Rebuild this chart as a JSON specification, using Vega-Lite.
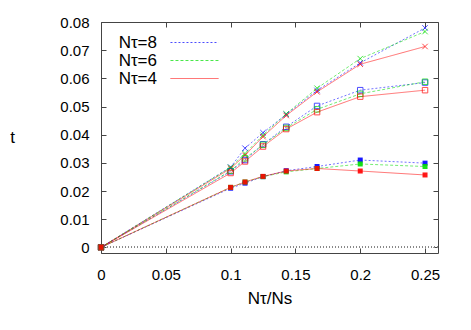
{
  "$schema": "https://vega.github.io/schema/vega-lite/v6.json",
  "width": 337,
  "height": 231,
  "autosize": {"type": "none"},
  "padding": {"left": 101, "top": 22, "right": 33, "bottom": 77},
  "config": {
    "view": {"stroke": "#444", "strokeWidth": 1},
    "font": "Liberation Sans",
    "axis": {
      "domain": false,
      "grid": false,
      "tickSize": -5,
      "tickColor": "#444",
      "labelFlush": false,
      "labelOverlap": false,
      "labelFont": "Liberation Sans",
      "labelFontSize": 15,
      "labelColor": "#000",
      "titleFont": "Liberation Sans",
      "titleFontSize": 17,
      "titleFontWeight": "normal",
      "titleColor": "#000"
    }
  },
  "data": {
    "values": [
      {"x": 0, "N": "8", "g": "a", "t": 0}, {"x": 0.1, "N": "8", "g": "a", "t": 0.0285}, {"x": 0.1111, "N": "8", "g": "a", "t": 0.0352}, {"x": 0.125, "N": "8", "g": "a", "t": 0.0407}, {"x": 0.1429, "N": "8", "g": "a", "t": 0.0472}, {"x": 0.1667, "N": "8", "g": "a", "t": 0.0557}, {"x": 0.2, "N": "8", "g": "a", "t": 0.0655}, {"x": 0.25, "N": "8", "g": "a", "t": 0.0779},
      {"x": 0, "N": "6", "g": "a", "t": 0}, {"x": 0.1, "N": "6", "g": "a", "t": 0.0284}, {"x": 0.1111, "N": "6", "g": "a", "t": 0.0333}, {"x": 0.125, "N": "6", "g": "a", "t": 0.0398}, {"x": 0.1429, "N": "6", "g": "a", "t": 0.0474}, {"x": 0.1667, "N": "6", "g": "a", "t": 0.0565}, {"x": 0.2, "N": "6", "g": "a", "t": 0.0670}, {"x": 0.25, "N": "6", "g": "a", "t": 0.0766},
      {"x": 0, "N": "4", "g": "a", "t": 0}, {"x": 0.1, "N": "4", "g": "a", "t": 0.0280}, {"x": 0.1111, "N": "4", "g": "a", "t": 0.0327}, {"x": 0.125, "N": "4", "g": "a", "t": 0.0393}, {"x": 0.1429, "N": "4", "g": "a", "t": 0.0468}, {"x": 0.1667, "N": "4", "g": "a", "t": 0.0552}, {"x": 0.2, "N": "4", "g": "a", "t": 0.0650}, {"x": 0.25, "N": "4", "g": "a", "t": 0.0713},
      {"x": 0, "N": "8", "g": "b", "t": 0}, {"x": 0.1, "N": "8", "g": "b", "t": 0.0270}, {"x": 0.1111, "N": "8", "g": "b", "t": 0.0310}, {"x": 0.125, "N": "8", "g": "b", "t": 0.0366}, {"x": 0.1429, "N": "8", "g": "b", "t": 0.0428}, {"x": 0.1667, "N": "8", "g": "b", "t": 0.0502}, {"x": 0.2, "N": "8", "g": "b", "t": 0.0558}, {"x": 0.25, "N": "8", "g": "b", "t": 0.0585},
      {"x": 0, "N": "6", "g": "b", "t": 0}, {"x": 0.1, "N": "6", "g": "b", "t": 0.0272}, {"x": 0.1111, "N": "6", "g": "b", "t": 0.0316}, {"x": 0.125, "N": "6", "g": "b", "t": 0.0364}, {"x": 0.1429, "N": "6", "g": "b", "t": 0.0424}, {"x": 0.1667, "N": "6", "g": "b", "t": 0.0490}, {"x": 0.2, "N": "6", "g": "b", "t": 0.0545}, {"x": 0.25, "N": "6", "g": "b", "t": 0.0588},
      {"x": 0, "N": "4", "g": "b", "t": 0}, {"x": 0.1, "N": "4", "g": "b", "t": 0.0264}, {"x": 0.1111, "N": "4", "g": "b", "t": 0.0305}, {"x": 0.125, "N": "4", "g": "b", "t": 0.0358}, {"x": 0.1429, "N": "4", "g": "b", "t": 0.0420}, {"x": 0.1667, "N": "4", "g": "b", "t": 0.0480}, {"x": 0.2, "N": "4", "g": "b", "t": 0.0535}, {"x": 0.25, "N": "4", "g": "b", "t": 0.0558},
      {"x": 0, "N": "8", "g": "c", "t": 0}, {"x": 0.1, "N": "8", "g": "c", "t": 0.0210}, {"x": 0.1111, "N": "8", "g": "c", "t": 0.0228}, {"x": 0.125, "N": "8", "g": "c", "t": 0.0251}, {"x": 0.1429, "N": "8", "g": "c", "t": 0.0272}, {"x": 0.1667, "N": "8", "g": "c", "t": 0.0287}, {"x": 0.2, "N": "8", "g": "c", "t": 0.0310}, {"x": 0.25, "N": "8", "g": "c", "t": 0.0299},
      {"x": 0, "N": "6", "g": "c", "t": 0}, {"x": 0.1, "N": "6", "g": "c", "t": 0.0213}, {"x": 0.1111, "N": "6", "g": "c", "t": 0.0232}, {"x": 0.125, "N": "6", "g": "c", "t": 0.0251}, {"x": 0.1429, "N": "6", "g": "c", "t": 0.0268}, {"x": 0.1667, "N": "6", "g": "c", "t": 0.0280}, {"x": 0.2, "N": "6", "g": "c", "t": 0.0296}, {"x": 0.25, "N": "6", "g": "c", "t": 0.0287},
      {"x": 0, "N": "4", "g": "c", "t": 0}, {"x": 0.1, "N": "4", "g": "c", "t": 0.0213}, {"x": 0.1111, "N": "4", "g": "c", "t": 0.0232}, {"x": 0.125, "N": "4", "g": "c", "t": 0.0252}, {"x": 0.1429, "N": "4", "g": "c", "t": 0.0271}, {"x": 0.1667, "N": "4", "g": "c", "t": 0.0280}, {"x": 0.2, "N": "4", "g": "c", "t": 0.0271}, {"x": 0.25, "N": "4", "g": "c", "t": 0.0257}
    ]
  },
  "layer": [
    {
      "mark": {"type": "rule", "color": "#888", "strokeDash": [1, 2], "strokeWidth": 1},
      "encoding": {
        "y": {"datum": 0, "type": "quantitative", "scale": {"domain": [-0.002, 0.08], "nice": false}, "axis": null}
      }
    },
    {
      "mark": {"type": "point", "opacity": 0},
      "encoding": {
        "x": {"field": "x", "type": "quantitative", "scale": {"domain": [0, 0.26], "nice": false},
              "axis": {"orient": "top", "labels": false, "title": null, "values": [0, 0.05, 0.1, 0.15, 0.2, 0.25]}},
        "y": {"field": "t", "type": "quantitative", "scale": {"domain": [-0.002, 0.08], "nice": false},
              "axis": {"orient": "right", "labels": false, "title": null, "values": [0, 0.01, 0.02, 0.03, 0.04, 0.05, 0.06, 0.07, 0.08]}}
      }
    },
    {
      "mark": {"type": "line", "strokeWidth": 1, "opacity": 0.55},
      "encoding": {
        "x": {"field": "x", "type": "quantitative", "scale": {"domain": [0, 0.26], "nice": false},
              "axis": {"orient": "bottom", "values": [0, 0.05, 0.1, 0.15, 0.2, 0.25], "format": ".2~f", "labelPadding": 19, "title": "Nτ/Ns", "titlePadding": 8}},
        "y": {"field": "t", "type": "quantitative", "scale": {"domain": [-0.002, 0.08], "nice": false},
              "axis": {"orient": "left", "values": [0, 0.01, 0.02, 0.03, 0.04, 0.05, 0.06, 0.07, 0.08], "format": ".2~f", "labelPadding": 17, "title": "t", "titleAngle": 0, "titleX": -89, "titleY": 115, "titleBaseline": "middle", "titleAlign": "center"}},
        "color": {
          "field": "N", "type": "nominal",
          "scale": {"domain": ["8", "6", "4"], "range": ["#0000ff", "#00dd00", "#ff0000"]},
          "legend": {
            "orient": "none", "legendX": 84, "legendY": 11, "title": null,
            "symbolType": "M-2.67,0L2.67,0", "symbolSize": 324, "symbolStrokeWidth": 1, "symbolOpacity": 0.55,
            "labelAlign": "right", "labelOffset": -47, "labelFontSize": 17, "labelFont": "Liberation Sans",
            "rowPadding": 0, "padding": 0,
            "labelExpr": "'Nτ=' + datum.label"
          }
        },
        "strokeDash": {
          "field": "N", "type": "nominal",
          "scale": {"domain": ["8", "6", "4"], "range": [[2, 2], [3, 2], [1, 0]]},
          "legend": {
            "orient": "none", "legendX": 84, "legendY": 11, "title": null,
            "symbolType": "M-2.67,0L2.67,0", "symbolSize": 324, "symbolStrokeWidth": 1, "symbolOpacity": 0.55,
            "labelAlign": "right", "labelOffset": -47, "labelFontSize": 17, "labelFont": "Liberation Sans",
            "rowPadding": 0, "padding": 0,
            "labelExpr": "'Nτ=' + datum.label"
          }
        },
        "detail": {"field": "g"}
      }
    },
    {
      "transform": [{"filter": "datum.g == 'a'"}],
      "mark": {"type": "point", "shape": "M-1,-1L1,1M1,-1L-1,1", "filled": false, "size": 30, "strokeWidth": 1},
      "encoding": {
        "x": {"field": "x", "type": "quantitative", "scale": {"domain": [0, 0.26], "nice": false}, "axis": null},
        "y": {"field": "t", "type": "quantitative", "scale": {"domain": [-0.002, 0.08], "nice": false}, "axis": null},
        "color": {"field": "N", "type": "nominal"}
      }
    },
    {
      "transform": [{"filter": "datum.g == 'b'"}],
      "mark": {"type": "point", "shape": "square", "filled": false, "size": 30, "strokeWidth": 1},
      "encoding": {
        "x": {"field": "x", "type": "quantitative", "scale": {"domain": [0, 0.26], "nice": false}, "axis": null},
        "y": {"field": "t", "type": "quantitative", "scale": {"domain": [-0.002, 0.08], "nice": false}, "axis": null},
        "color": {"field": "N", "type": "nominal"}
      }
    },
    {
      "transform": [{"filter": "datum.g == 'c'"}],
      "mark": {"type": "point", "shape": "square", "filled": true, "size": 25, "opacity": 0.9},
      "encoding": {
        "x": {"field": "x", "type": "quantitative", "scale": {"domain": [0, 0.26], "nice": false}, "axis": null},
        "y": {"field": "t", "type": "quantitative", "scale": {"domain": [-0.002, 0.08], "nice": false}, "axis": null},
        "color": {"field": "N", "type": "nominal"}
      }
    }
  ],
  "resolve": {"axis": {"x": "independent", "y": "independent"}}
}
